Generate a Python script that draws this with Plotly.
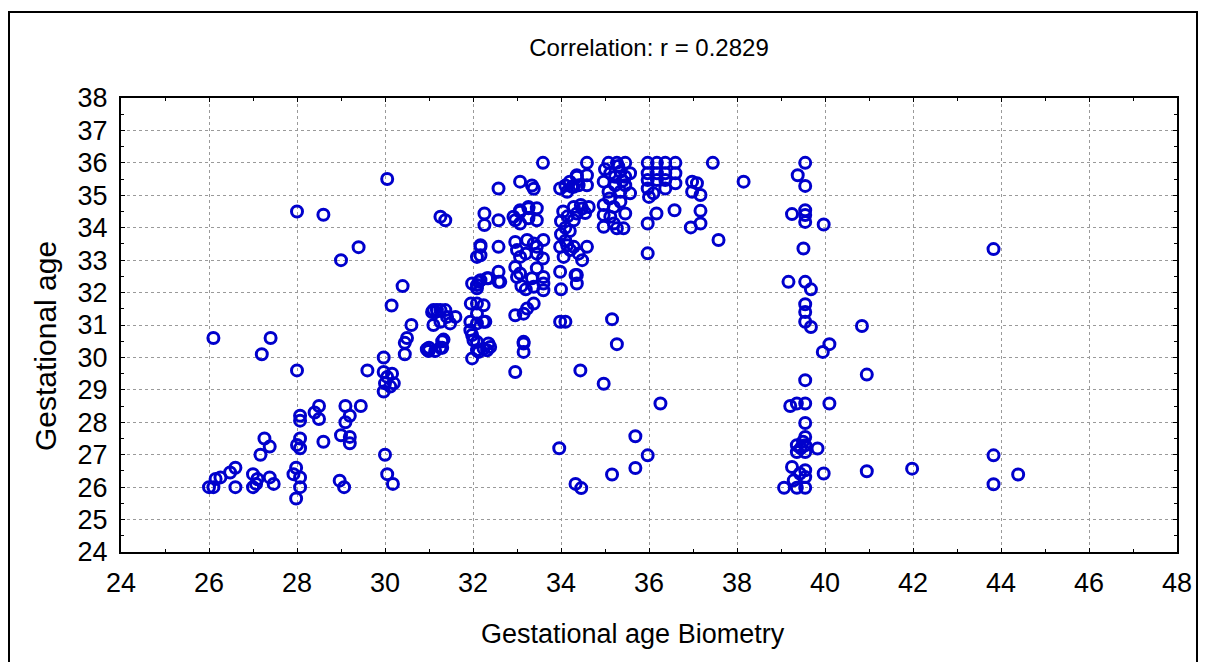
import plotly.graph_objects as go

# Gestational age by biometry (x) and gestational age (y), grouped by region
x_left = [26.1, 27.4, 27.2, 28.0, 29.6, 28.0, 28.6, 29.4, 29.0, 30.05,
          30.4, 30.15, 30.6, 30.5, 30.45, 30.45,
          29.97, 29.97, 30.05, 30.16, 30.0, 30.12, 29.97, 30.2,
          28.4, 28.5, 28.5, 29.1, 29.2, 29.1, 29.0, 29.2, 29.2, 29.45,
          28.07, 28.07, 28.07, 28.0, 28.07, 28.6, 27.26, 27.38, 27.17,
          27.98, 27.92, 28.07, 28.07, 27.98, 28.97, 29.07,
          26.0, 26.1, 26.15, 26.26, 26.48, 26.6, 26.6,
          27.0, 27.0, 27.07, 27.1, 27.38, 27.47, 30.0, 30.05, 30.18]
y_left = [30.6, 30.6, 30.1, 29.6, 29.6, 34.5, 34.4, 33.4, 33.0, 35.5,
          32.2, 31.6, 31.0, 30.6, 30.1, 30.45,
          30.0, 29.55, 29.4, 29.5, 29.2, 29.1, 28.95, 29.2,
          28.3, 28.5, 28.1, 28.5, 28.2, 28.0, 27.6, 27.55, 27.35, 28.5,
          28.2, 28.05, 27.5, 27.3, 27.2, 27.4, 27.5, 27.25, 27.0,
          26.6, 26.4, 26.3, 26.0, 25.65, 26.2, 26.0,
          26.0, 26.0, 26.25, 26.3, 26.45, 26.6, 26.0,
          26.4, 26.0, 26.1, 26.25, 26.3, 26.1, 27.0, 26.4, 26.1]

x_mid = [30.99, 31.14, 31.3, 30.95, 31.26, 31.33,
         31.07, 31.18, 31.37, 31.1, 31.26, 31.41, 31.6, 31.48, 31.26, 31.1,
         31.26, 31.37, 31.0, 31.3,
         31.98, 32.09, 32.32, 32.39, 32.24, 32.13, 32.01, 32.09, 32.35, 31.94, 31.98,
         31.94, 32.24, 32.09, 32.28, 32.09, 32.09, 32.24, 31.95,
         32.13, 32.32, 32.58, 32.62, 32.09, 31.98, 32.17, 32.35, 32.58, 32.09,
         32.17, 32.09, 32.17, 32.58, 32.17, 32.26, 32.26, 32.58, 32.58]
y_mid = [30.2, 30.2, 30.3, 30.25, 30.3, 30.55,
         31.4, 31.46, 31.46, 31.46, 31.46, 31.25, 31.25, 31.05, 31.1, 31.0,
         34.34, 34.23, 30.3, 30.5,
         29.97, 30.22, 30.22, 30.32, 30.27, 30.17, 30.53, 30.48, 30.43, 30.84, 30.69,
         31.1, 31.1, 31.05, 31.1, 31.35, 31.66, 31.61, 31.66,
         32.33, 32.44, 32.64, 32.33, 32.13, 32.28, 32.38, 32.44, 32.33, 32.23,
         33.41, 33.1, 33.15, 33.41, 33.46, 34.44, 34.08, 34.23, 35.21]

x_c33 = [32.96, 33.15, 33.15, 33.15, 32.96, 33.23, 33.38, 33.15,
         32.96, 33.0, 33.07, 33.34, 33.38, 33.6, 33.6, 33.6, 33.1, 33.45, 33.2,
         32.96, 33.0, 33.07, 33.23, 33.38, 33.45, 33.6, 33.59, 33.2, 33.45,
         32.96, 33.07, 33.07, 33.26, 33.26, 33.45, 33.45, 32.92, 33.07, 33.26,
         33.07, 33.34, 33.38, 33.59]
y_c33 = [29.55, 30.48, 30.17, 30.43, 31.3, 31.51, 31.66, 31.35,
         32.79, 32.48, 32.59, 32.44, 32.18, 32.48, 32.07, 32.28, 32.2, 32.75, 32.1,
         33.56, 33.31, 33.1, 33.62, 33.51, 33.41, 33.62, 33.05, 33.2, 33.2,
         34.23, 34.49, 34.13, 34.6, 34.29, 34.6, 34.23, 34.34, 34.54, 34.64,
         35.42, 35.3, 35.2, 36.0]

x_c34 = [33.98, 34.14, 34.21, 34.06, 33.98, 34.33, 34.36, 34.0, 34.29, 34.59, 34.48, 34.36, 34.1, 34.4,
         33.98, 34.1, 34.44, 33.96, 34.33, 34.46,
         34.29, 34.48, 34.63, 34.29, 34.36, 34.0, 34.05, 34.15, 34.0, 34.2, 34.45, 34.55, 34.1,
         34.59, 34.59, 34.59, 34.36, 34.2, 33.98, 34.14, 34.25, 34.4, 34.1, 34.29, 34.36]
y_c34 = [33.41, 33.46, 33.31, 33.1, 32.64, 32.54, 32.28, 32.1, 33.41, 33.41, 33.0, 32.54, 33.6, 33.2,
         31.1, 31.1, 29.6, 27.2, 26.1, 25.97,
         34.64, 34.59, 34.64, 34.23, 34.44, 34.2, 34.5, 34.35, 33.8, 33.9, 34.7, 34.45, 34.0,
         36.0, 35.62, 35.31, 35.62, 35.42, 35.21, 35.11, 35.26, 35.31, 35.3, 35.26, 35.57]

x_c35 = [35.08, 35.27, 35.46,
         34.97, 35.12, 35.23, 35.35, 35.46, 35.57, 35.08, 35.35, 35.57, 35.23, 35.46, 35.0, 35.3, 35.4,
         34.97, 34.97, 34.97, 35.2, 35.2, 35.46, 35.27, 35.42, 35.12, 35.35, 35.1,
         35.16, 35.27, 34.97, 35.16, 35.69, 35.69]
y_c35 = [36.0, 36.0, 36.0,
         35.42, 35.68, 35.57, 35.73, 35.57, 35.68, 35.11, 35.11, 35.06, 35.31, 35.31, 35.8, 35.9, 35.45,
         34.7, 34.39, 34.03, 34.64, 34.13, 34.44, 33.98, 33.98, 34.34, 34.8, 34.9,
         31.18, 30.41, 29.19, 26.39, 27.57, 26.59]

x_c36 = [35.97, 36.18, 36.37, 36.6,
         35.97, 35.97, 35.97, 36.18, 36.18, 36.37, 36.37, 36.6, 36.6, 36.1, 36.37, 36.0,
         36.98, 37.09, 36.98, 37.17, 35.97, 36.17, 36.58, 36.95, 37.17, 37.17,
         37.58, 35.97, 37.45, 38.15, 36.26, 35.97]
y_c36 = [36.0, 36.0, 36.0, 36.0,
         35.68, 35.47, 35.21, 35.68, 35.47, 35.68, 35.21, 35.68, 35.37, 35.06, 35.47, 34.95,
         35.42, 35.37, 35.11, 35.01, 34.13, 34.44, 34.54, 34.01, 34.52, 34.13,
         33.62, 33.21, 36.0, 35.42, 28.58, 26.98]

x_c40 = [39.55, 39.38, 39.55, 39.25, 39.55, 39.55, 39.55, 39.97, 39.51,
         39.17, 39.55, 39.68, 39.55, 39.55, 39.55, 39.68,
         40.84, 40.1, 39.95, 40.95, 39.55,
         39.21, 39.36, 39.55, 40.1, 39.55,
         39.55, 39.36, 39.36, 39.55, 39.55, 39.83, 39.45, 39.5,
         39.25, 39.43, 39.55, 39.55, 39.97, 40.95,
         39.07, 39.36, 39.55, 39.29,
         41.98, 43.83, 43.83, 44.39, 43.83]
y_c40 = [36.0, 35.62, 35.29, 34.42, 34.54, 34.39, 34.18, 34.1, 33.36,
         32.33, 32.33, 32.1, 31.64, 31.4, 31.1, 30.94,
         30.97, 30.41, 30.17, 29.47, 29.3,
         28.5, 28.58, 28.58, 28.58, 27.98,
         27.55, 27.29, 27.08, 27.29, 27.08, 27.19, 27.2, 27.4,
         26.62, 26.42, 26.52, 26.31, 26.42, 26.49,
         25.98, 25.98, 25.98, 26.21,
         26.57, 26.98, 26.09, 26.39, 33.34]

x_vals = x_left + x_mid + x_c33 + x_c34 + x_c35 + x_c36 + x_c40
y_vals = y_left + y_mid + y_c33 + y_c34 + y_c35 + y_c36 + y_c40

x_ticks = list(range(24, 49, 2))
y_ticks = list(range(24, 39, 1))

FONT = "Liberation Sans, Arial, sans-serif"
BLUE = "#0000CC"
W, H = 1205, 662

fig = go.Figure()
fig.add_trace(go.Scatter(
    x=x_vals, y=y_vals, mode="markers",
    marker=dict(symbol="circle-open", size=11, color=BLUE, line=dict(width=3, color=BLUE)),
    showlegend=False, hoverinfo="x+y",
))

axis_common = dict(
    showline=True, linecolor="black", linewidth=2, mirror="ticks",
    ticks="inside", ticklen=4, tickcolor="black", tickwidth=1,
    showgrid=True, gridcolor="#9a9a9a", gridwidth=1, griddash="dot",
    zeroline=False, tickfont=dict(family=FONT, size=27, color="black"),
)

fig.update_xaxes(
    range=[24, 48], tickvals=x_ticks, ticktext=[str(v) for v in x_ticks],
    minor=dict(dtick=1, tick0=24, ticks="inside", ticklen=3, tickcolor="black", showgrid=False),
    ticklabelstandoff=6,
    **axis_common,
)
fig.update_yaxes(
    range=[24, 38], tickvals=y_ticks, ticktext=[str(v) for v in y_ticks],
    minor=dict(dtick=0.5, tick0=24, ticks="inside", ticklen=3, tickcolor="black", showgrid=False),
    ticklabelstandoff=6,
    **axis_common,
)

ml, mr, mt, mb = 121, 28, 98, 110
pw, ph = W - ml - mr, H - mt - mb
def px(x):
    return (x - ml) / pw
def py(y):
    return (H - mb - y) / ph

# outer frame of the picture
fig.add_shape(type="rect", xref="paper", yref="paper",
              x0=px(9), x1=px(1197), y0=py(664), y1=py(12),
              line=dict(color="black", width=2), fillcolor="rgba(0,0,0,0)", layer="below")

# axis titles
fig.add_annotation(text="Gestational age Biometry", xref="paper", yref="paper",
                   x=px(633), y=py(634), xanchor="center", yanchor="middle", showarrow=False,
                   font=dict(family=FONT, size=27, color="black"))
fig.add_annotation(text="Gestational age", xref="paper", yref="paper", textangle=-90,
                   x=px(45), y=py(346), xanchor="center", yanchor="middle", showarrow=False,
                   font=dict(family=FONT, size=30, color="black"))

fig.update_layout(
    width=W, height=H,
    margin=dict(l=ml, r=mr, t=mt, b=mb, autoexpand=False),
    paper_bgcolor="white", plot_bgcolor="white",
    title=dict(text="Correlation: r = 0.2829", x=649 / W, xanchor="center",
               y=1 - 48 / H, yanchor="middle",
               font=dict(family=FONT, size=24, color="black")),
    font=dict(family=FONT, color="black"),
)

fig.write_html("out.html")
